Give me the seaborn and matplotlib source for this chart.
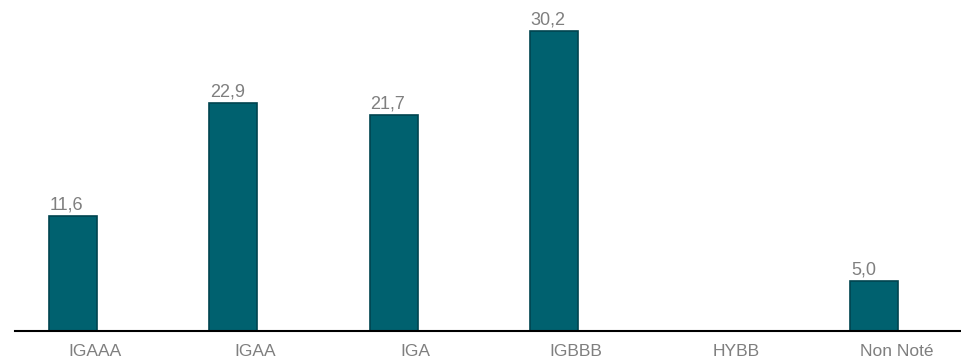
import matplotlib
matplotlib.use("Agg")
import matplotlib.pyplot as plt
import matplotlib.transforms as mtransforms
import seaborn as sns
import pandas as pd
import numpy as np

categories = ["IGAAA", "IGAA", "IGA", "IGBBB", "HYBB", "Non Noté"]
values = [11.6, 22.9, 21.7, 30.2, 0.0, 5.0]
labels = ["11,6", "22,9", "21,7", "30,2", "", "5,0"]

sns.set_theme(style="white")
plt.rcParams["font.family"] = ["Liberation Sans", "DejaVu Sans"]

df = pd.DataFrame({"cat": categories, "val": values})

fig = plt.figure(figsize=(9.61, 3.58), dpi=100)
ax = fig.add_axes([15 / 961, 27 / 358, 946 / 961, 331 / 358])

sns.barplot(data=df, x="cat", y="val", ax=ax, color="#00616f",
            saturation=1, width=0.3, edgecolor="#00444f", linewidth=1.2)

for p, lab in zip(ax.patches, labels):
    if lab:
        ax.text(p.get_x() + 0.005, p.get_height() + 0.25, lab,
                ha="left", va="bottom", color="#7f7f7f", fontsize=13)

ax.set_xlim(-0.362, 5.54)
ax.set_ylim(0, 33.3)
ax.set_xlabel("")
ax.set_ylabel("")
ax.set_yticks([])
ax.tick_params(axis="x", length=0, labelsize=12.5, labelcolor="#7f7f7f", pad=9)
offset = mtransforms.ScaledTranslation(22 / 100, 0, fig.dpi_scale_trans)
for lbl in ax.get_xticklabels():
    lbl.set_transform(lbl.get_transform() + offset)
for s in ["top", "right", "left"]:
    ax.spines[s].set_visible(False)
ax.spines["bottom"].set_color("black")
ax.spines["bottom"].set_linewidth(1.5)

fig.savefig("out.png", dpi=100, facecolor="white")
